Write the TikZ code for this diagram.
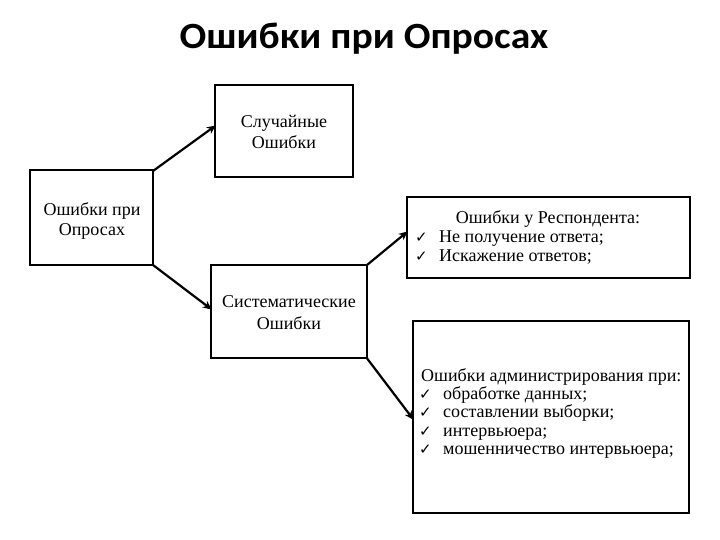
\documentclass[tikz,border=0pt]{standalone}
\usepackage{fontspec}
\setmainfont{Liberation Serif}
\newfontfamily\titlefont{Carlito}
\newfontfamily\symfont{DejaVu Sans}
\usetikzlibrary{arrows.meta}
\tikzset{
  boxline/.style={draw=black, line width=2pt},
  lbl/.style={font=\fontsize{18}{20}\selectfont, inner sep=0pt, anchor=base},
  lblw/.style={lbl, anchor=base west},
  conn/.style={line width=2.2pt, -{Stealth[length=9pt,width=8pt]}, shorten >=-1pt},
}
\newcommand{\ck}{\makebox[24pt][l]{\symfont\fontsize{15}{15}\selectfont ✓}}
\begin{document}
\begin{tikzpicture}[x=1pt,y=-1pt]
\useasboundingbox (0,0) rectangle (720,540);
% left box
\draw[boxline] (30,170) rectangle (153,265);
\node[lbl] (top1) at (92,215) {Ошибки при};
\node[lbl] (top2) at (92,236) {Опросах};
\coordinate (topNE) at (153,171);
\coordinate (topSE) at (153,265);

% random errors
\draw[boxline] (215,85) rectangle (353,177);
\node[lbl] (rnd1) at (284,128) {Случайные};
\node[lbl] (rnd2) at (284,149) {Ошибки};
\coordinate (rndW) at (215,126);

% systematic errors
\draw[boxline] (211,265) rectangle (367,358);
\node[lbl] (sys1) at (289,307) {Систематические};
\node[lbl] (sys2) at (289,329) {Ошибки};
\coordinate (sysW) at (211,309);
\coordinate (sysNE) at (367,265);
\coordinate (sysSE) at (366,357);

% respondent errors
\draw[boxline] (407,197) rectangle (690,278);
\node[lbl] (resp) at (548,223) {Ошибки у Респондента:};
\node[lblw] (r1) at (415,243) {\ck Не получение ответа;};
\node[lblw] (r2) at (415,261) {\ck Искажение ответов;};
\coordinate (respW) at (407,232);

% administration errors
\draw[boxline] (413,321) rectangle (689,513);
\node[lblw] (adm) at (421,381) {Ошибки администрирования при:};
\node[lblw] (a1) at (419,399) {\ck обработке данных;};
\node[lblw] (a2) at (419,417) {\ck составлении выборки;};
\node[lblw] (a3) at (419,436) {\ck интервьюера;};
\node[lblw] (a4) at (419,454) {\ck мошенничество интервьюера;};
\coordinate (admW) at (413,419);

% title
\node[font=\titlefont\bfseries\fontsize{37}{37}\selectfont, anchor=base, inner sep=0pt] (title) at (364,49) {\scalebox{1.07}[1]{Ошибки при Опросах}};

% connectors
\draw[conn] (topNE) -- (rndW);
\draw[conn] (topSE) -- (sysW);
\draw[conn] (sysNE) -- (respW);
\draw[conn] (sysSE) -- (admW);
\end{tikzpicture}
\end{document}
